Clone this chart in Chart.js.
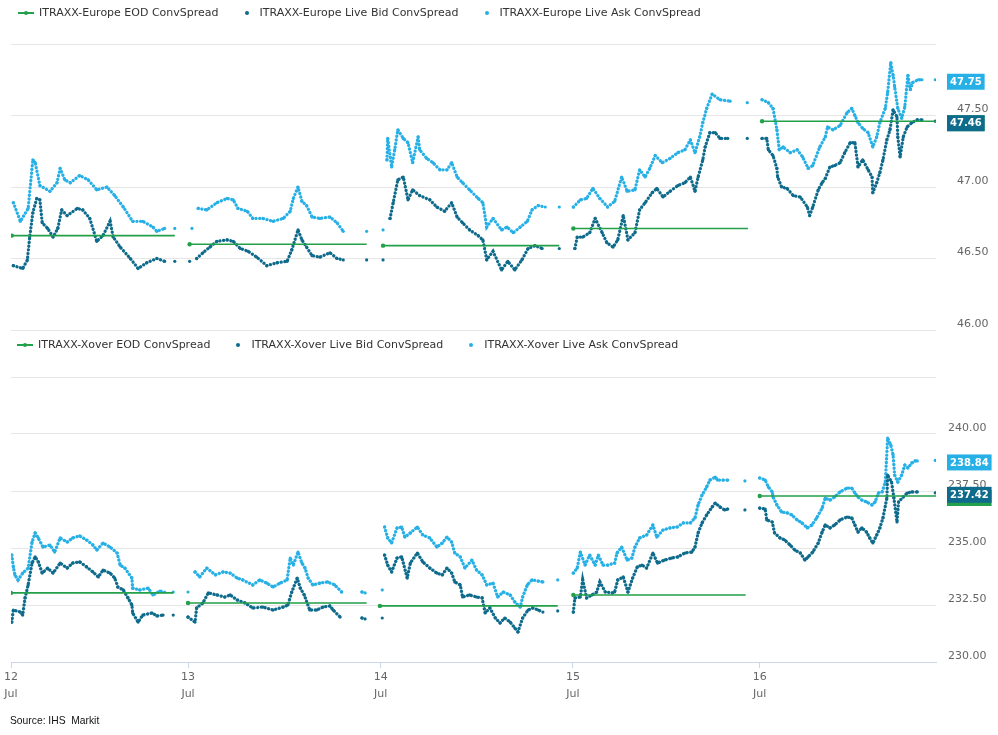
<!DOCTYPE html>
<html>
<head>
<meta charset="utf-8">
<title>ITRAXX ConvSpread</title>
<script src="https://cdn.jsdelivr.net/npm/chart.js@4.4.1/dist/chart.umd.min.js"></script>
<style>
    body { margin: 0; background: #fff; font-family: 'DejaVu Sans', sans-serif; }
    #page { position: relative; width: 998px; height: 735px; overflow: hidden; }
    .panel { position: absolute; left: 0; width: 998px; }
    .legend { position: absolute; display: flex; font-size: 11px; line-height: 14px; color: #333; z-index: 2; white-space: nowrap; }
    .legend .item { display: flex; align-items: center; margin-right: 20px; }
    .legend .sym { position: relative; width: 16px; height: 14px; margin-right: 5px; }
    .legend .sym .ln { position: absolute; left: 0; top: 6px; width: 16px; height: 2px; }
    .legend .sym .dot { position: absolute; left: 6px; top: 5px; width: 4px; height: 4px; border-radius: 50%; }
    #source { position: absolute; left: 10px; top: 715px; font-family: 'Liberation Sans', Arial, sans-serif; font-size: 10.3px; color: #111; white-space: pre; }
</style>
</head>
<body>
<div id="page">
    <div class="panel" style="top:335px; height:400px;"><canvas id="xo-chart"></canvas></div>
    <div class="panel" style="top:0; height:358px;"><canvas id="eu-chart"></canvas></div>
    <div class="legend" id="eu-legend" style="top:6px; left:18px;"></div>
    <div class="legend" id="xo-legend" style="top:338px; left:17px;"></div>
    <div id="source">Source: IHS  Markit</div>
</div>
<script>
// Tidsakse: timer fra 12. juli 00:00, dagsstart slik den vises på aksen
const dayTickHours = [0, 22.7, 47.4, 72.05, 96.0];
const dayTickLabels = [['12', 'Jul'], ['13', 'Jul'], ['14', 'Jul'], ['15', 'Jul'], ['16', 'Jul']];

const euLabels = ['ITRAXX-Europe EOD ConvSpread', 'ITRAXX-Europe Live Bid ConvSpread', 'ITRAXX-Europe Live Ask ConvSpread'];
const xoLabels = ['ITRAXX-Xover EOD ConvSpread', 'ITRAXX-Xover Live Bid ConvSpread', 'ITRAXX-Xover Live Ask ConvSpread'];

// EOD per dag: [start, slutt, verdi]
const euEod = [[0.1, 21.0, 46.66], [22.9, 45.6, 46.60], [47.7, 70.3, 46.59], [72.1, 94.5, 46.71], [96.3, 118.6, 47.46]];
const xoEod = [[0.0, 20.8, 233.03], [22.7, 45.6, 232.59], [47.3, 70.1, 232.46], [72.1, 94.2, 232.94], [96.0, 118.6, 237.28]];

// Live Ask / Bid: [time, verdi], null = hull i dataene
const euAsk = [
    [0.3, 46.89], [1.2, 46.76], [2.2, 46.85], [2.8, 47.19], [3.1, 47.17], [3.7, 47.01], [5.0, 46.97], [5.9, 47.03], [6.3, 47.13], [6.9, 47.05],
    [7.6, 47.03], [8.8, 47.08], [9.9, 47.05], [11.0, 46.98], [12.3, 47.00], [13.3, 46.94], [14.4, 46.86], [15.6, 46.76], [16.9, 46.76], [18.2, 46.72],
    [18.7, 46.69], [19.7, 46.71], [20.3, null], [21.0, 46.71], [22.0, null],
    [23.2, 46.71], [23.5, null], [24.0, 46.85], [25.1, 46.84], [26.4, 46.89], [27.7, 46.92], [28.5, 46.91], [29.1, 46.85], [30.3, 46.83], [31.0, 46.78],
    [32.3, 46.78], [33.6, 46.76], [34.9, 46.78], [35.8, 46.83], [36.2, 46.92], [36.8, 47.00], [37.3, 46.90], [37.9, 46.87], [38.6, 46.79], [39.6, 46.78],
    [40.9, 46.79], [41.8, 46.75], [42.6, 46.69], [44.0, null], [45.6, 46.69], [46.5, null],
    [47.7, 46.70], [47.9, null], [48.2, 47.19], [48.3, 47.34], [48.8, 47.14], [49.2, 47.26], [49.6, 47.40], [50.3, 47.34], [50.9, 47.31], [51.5, 47.17],
    [52.2, 47.35], [52.4, 47.26], [53.3, 47.20], [54.1, 47.17], [55.0, 47.12], [55.9, 47.12], [56.5, 47.17], [57.2, 47.07], [57.9, 47.03], [58.8, 46.98],
    [59.9, 46.92], [60.5, 46.89], [61.0, 46.72], [61.8, 46.78], [62.9, 46.70], [63.6, 46.72], [64.4, 46.68], [65.3, 46.72], [66.2, 46.76], [66.8, 46.84],
    [67.6, 46.87], [68.5, 46.86], [69.4, null], [70.3, 46.86], [71.2, null],
    [72.1, 46.86], [73.0, 46.91], [73.8, 46.92], [74.6, 46.99], [75.5, 46.92], [76.5, 46.86], [77.4, 46.90], [78.3, 47.07], [79.0, 46.97], [80.0, 46.98],
    [80.6, 47.12], [81.3, 47.07], [81.9, 47.13], [82.6, 47.22], [83.5, 47.17], [84.5, 47.20], [85.5, 47.24], [86.4, 47.26], [87.1, 47.33], [87.7, 47.24],
    [88.3, 47.35], [88.7, 47.45], [89.2, 47.55], [89.9, 47.65], [90.9, 47.61], [92.2, 47.60], [93.2, null], [94.4, 47.59], [95.3, null],
    [96.3, 47.61], [97.1, 47.59], [97.7, 47.55], [98.2, 47.40], [98.5, 47.26], [99.0, 47.28], [99.9, 47.24], [100.8, 47.26], [101.5, 47.21], [102.2, 47.13],
    [102.8, 47.15], [103.7, 47.28], [104.4, 47.35], [104.7, 47.42], [105.4, 47.40], [106.3, 47.43], [107.2, 47.52], [107.8, 47.55], [108.2, 47.50], [108.6, 47.45],
    [109.2, 47.41], [109.9, 47.38], [110.5, 47.28], [111.0, 47.35], [111.4, 47.45], [112.1, 47.55], [112.4, 47.66], [112.8, 47.87], [113.1, 47.78], [113.3, 47.70],
    [113.7, 47.55], [114.2, 47.48], [114.6, 47.56], [115.0, 47.78], [115.3, 47.68], [115.6, 47.73], [116.3, 47.75], [116.8, 47.75], [117.6, null], [118.5, 47.75]
];

const euBid = [
    [0.3, 46.45], [1.5, 46.43], [2.1, 46.49], [2.4, 46.65], [2.8, 46.82], [3.3, 46.92], [3.7, 46.91], [4.0, 46.75], [4.7, 46.71], [5.4, 46.65],
    [6.0, 46.71], [6.5, 46.84], [7.2, 46.80], [8.5, 46.85], [9.2, 46.84], [10.1, 46.78], [11.0, 46.62], [11.8, 46.66], [12.7, 46.76], [13.1, 46.65],
    [14.0, 46.58], [15.3, 46.50], [16.3, 46.43], [17.4, 46.47], [18.7, 46.50], [19.7, 46.48], [20.3, null], [21.0, 46.48], [22.0, null],
    [22.9, 46.48], [23.4, null], [23.8, 46.50], [24.6, 46.54], [25.5, 46.58], [26.4, 46.62], [27.7, 46.63], [28.5, 46.62], [29.4, 46.57], [30.4, 46.55],
    [31.5, 46.51], [32.8, 46.45], [34.1, 46.47], [35.4, 46.48], [36.0, 46.56], [36.8, 46.70], [37.3, 46.63], [37.9, 46.58], [38.6, 46.52], [39.6, 46.51],
    [40.9, 46.54], [41.8, 46.50], [42.6, 46.49], [44.0, null], [45.6, 46.49], [46.5, null],
    [47.7, 46.49], [47.9, null], [48.6, 46.78], [49.0, 46.89], [49.6, 47.05], [50.3, 47.07], [50.9, 46.91], [51.5, 46.98], [52.4, 46.94], [53.7, 46.91],
    [54.6, 46.86], [55.6, 46.83], [56.5, 46.89], [57.2, 46.79], [57.9, 46.75], [58.8, 46.70], [59.9, 46.66], [60.5, 46.63], [61.0, 46.49], [61.8, 46.55],
    [62.9, 46.42], [63.7, 46.48], [64.6, 46.42], [65.5, 46.49], [66.3, 46.57], [67.2, 46.59], [68.1, 46.57], [69.4, null], [70.3, 46.57], [71.2, null],
    [72.3, 46.57], [72.6, 46.65], [73.3, 46.65], [74.2, 46.68], [74.9, 46.78], [75.8, 46.68], [76.4, 46.61], [77.2, 46.58], [77.8, 46.63], [78.5, 46.80],
    [79.1, 46.63], [80.0, 46.68], [80.6, 46.84], [81.3, 46.89], [82.2, 46.96], [82.8, 46.99], [83.6, 46.93], [84.5, 46.97], [85.5, 47.01], [86.4, 47.03],
    [87.1, 47.07], [87.7, 46.97], [88.1, 47.07], [88.7, 47.19], [89.0, 47.28], [89.6, 47.38], [90.3, 47.38], [90.9, 47.34], [91.9, 47.34], [93.2, null],
    [94.4, 47.34], [95.3, null],
    [96.3, 47.34], [96.9, 47.34], [97.1, 47.26], [97.7, 47.22], [98.2, 47.13], [98.3, 47.07], [98.8, 47.00], [99.5, 46.99], [100.3, 46.94], [101.2, 46.93],
    [102.1, 46.86], [102.4, 46.80], [102.8, 46.86], [103.5, 46.98], [104.0, 47.03], [104.4, 47.06], [105.0, 47.14], [105.6, 47.15], [106.3, 47.17], [106.9, 47.24],
    [107.6, 47.31], [108.2, 47.31], [108.6, 47.14], [109.2, 47.19], [109.9, 47.12], [110.4, 47.07], [110.5, 46.96], [111.0, 47.03], [111.4, 47.10], [111.8, 47.19],
    [112.3, 47.33], [112.7, 47.40], [113.1, 47.54], [113.6, 47.49], [113.7, 47.35], [114.0, 47.21], [114.4, 47.35], [114.9, 47.42], [115.5, 47.45], [116.2, 47.47],
    [116.8, 47.47], [117.6, null], [118.5, 47.46]
];

const xoAsk = [
    [0.1, 234.69], [0.3, 234.17], [0.5, 233.82], [0.9, 233.60], [1.5, 233.90], [2.2, 234.12], [2.7, 235.26], [3.1, 235.66], [3.5, 235.44], [4.1, 235.04],
    [5.0, 235.13], [5.6, 234.82], [6.3, 235.44], [7.2, 235.26], [7.9, 235.44], [8.8, 235.53], [9.7, 235.35], [10.5, 235.13], [11.0, 234.91], [11.8, 235.22],
    [12.7, 235.04], [13.6, 234.78], [14.0, 234.25], [14.6, 234.12], [15.5, 233.68], [15.6, 233.24], [16.5, 233.16], [17.6, 233.24], [18.2, 232.94], [19.1, 233.11],
    [19.7, 233.07], [20.3, null], [20.8, 233.07], [21.8, null],
    [22.7, 233.07], [23.2, null], [23.6, 233.95], [24.2, 233.73], [25.1, 234.12], [26.2, 233.82], [27.2, 233.95], [28.1, 233.90], [29.0, 233.68], [29.7, 233.60],
    [31.0, 233.38], [31.9, 233.60], [32.8, 233.46], [33.6, 233.29], [34.5, 233.46], [35.4, 233.60], [35.8, 234.56], [36.2, 234.25], [36.8, 234.82], [37.3, 234.34],
    [37.7, 234.12], [38.1, 233.68], [38.7, 233.38], [39.6, 233.46], [40.6, 233.51], [41.5, 233.38], [42.4, 233.07], [44.0, null], [45.0, 233.07], [45.4, 233.03],
    [46.4, null],
    [47.6, 233.16], [47.75, null], [47.9, 235.92], [48.3, 235.44], [48.8, 235.22], [49.5, 235.88], [50.1, 235.92], [50.5, 235.48], [51.2, 235.66], [52.1, 235.92],
    [52.8, 235.57], [53.7, 235.44], [54.6, 235.04], [55.3, 235.22], [55.9, 235.48], [56.5, 235.26], [56.9, 234.78], [57.6, 234.61], [58.2, 234.12], [59.1, 234.47],
    [59.7, 234.03], [60.4, 233.82], [61.0, 233.38], [61.8, 233.46], [62.4, 232.85], [63.1, 233.07], [64.0, 232.94], [64.6, 232.63], [65.3, 232.41], [65.6, 232.85],
    [66.2, 233.38], [66.8, 233.60], [67.6, 233.55], [68.2, 233.51], [69.2, null], [70.1, 233.60], [71.1, null],
    [72.1, 233.90], [72.6, 234.12], [73.0, 234.82], [73.6, 234.25], [74.2, 234.69], [74.9, 234.25], [75.3, 234.69], [75.9, 234.25], [76.5, 234.25], [77.4, 234.34],
    [77.7, 234.78], [78.3, 235.04], [79.0, 234.47], [79.6, 234.56], [80.0, 235.04], [80.6, 235.44], [81.5, 235.57], [82.3, 236.01], [82.8, 235.48], [83.6, 235.79],
    [84.5, 235.88], [85.4, 235.92], [86.2, 236.10], [87.1, 236.10], [87.7, 236.32], [88.1, 236.89], [88.6, 237.32], [89.2, 237.68], [89.6, 237.98], [90.3, 238.11],
    [90.6, 237.98], [91.3, 237.98], [91.9, 237.98], [93.0, null], [94.1, 237.94], [95.0, null],
    [96.0, 238.07], [96.7, 237.98], [97.1, 237.68], [97.6, 237.46], [97.7, 237.24], [98.2, 236.89], [98.8, 236.58], [99.5, 236.54], [100.1, 236.45], [100.8, 236.23],
    [101.4, 236.10], [102.1, 235.88], [102.7, 236.01], [103.3, 236.32], [104.0, 236.75], [104.4, 237.19], [105.0, 237.10], [105.6, 237.24], [106.3, 237.46], [107.2, 237.63],
    [107.8, 237.63], [108.2, 237.41], [108.6, 237.24], [109.1, 237.10], [109.7, 237.02], [110.4, 236.89], [110.8, 237.02], [111.2, 237.41], [111.7, 237.46], [112.1, 237.89],
    [112.4, 239.82], [112.8, 239.52], [113.1, 239.08], [113.3, 238.20], [113.7, 237.89], [114.2, 238.20], [114.6, 238.64], [115.0, 238.51], [115.5, 238.73], [115.9, 238.82],
    [116.2, 238.82], [117.4, null], [118.5, 238.84]
];

const xoBid = [
    [0.1, 231.75], [0.3, 232.28], [1.2, 232.19], [1.5, 232.06], [1.8, 232.81], [2.2, 233.38], [2.7, 234.34], [3.1, 234.61], [3.5, 234.39], [4.0, 233.90],
    [4.7, 234.12], [5.4, 233.90], [6.3, 234.34], [7.2, 234.12], [7.9, 234.34], [8.8, 234.39], [9.7, 234.17], [10.5, 233.95], [11.2, 233.73], [11.8, 234.03],
    [12.7, 233.90], [13.3, 233.68], [13.7, 233.29], [14.4, 233.16], [15.0, 232.81], [15.5, 232.50], [15.6, 232.15], [16.3, 231.75], [16.9, 232.06], [18.1, 232.15],
    [18.7, 232.02], [19.5, 232.06], [20.3, null], [20.8, 232.06], [21.8, null],
    [22.7, 231.97], [23.6, 231.75], [23.8, 232.37], [24.6, 232.59], [25.3, 233.03], [26.4, 232.94], [27.4, 232.85], [28.1, 232.94], [29.0, 232.72], [30.0, 232.59],
    [31.0, 232.37], [32.3, 232.41], [33.6, 232.28], [34.9, 232.41], [35.5, 232.50], [36.0, 233.07], [36.7, 233.68], [37.1, 233.24], [37.6, 232.94], [38.3, 232.28],
    [39.2, 232.28], [40.0, 232.41], [40.9, 232.46], [41.3, 232.28], [42.2, 231.97], [44.0, null], [45.0, 231.93], [45.4, 231.89], [46.4, null],
    [47.6, 231.93], [47.75, null], [47.9, 234.69], [48.3, 234.25], [48.8, 233.95], [49.5, 234.56], [50.1, 234.61], [50.8, 233.68], [51.2, 234.34], [52.1, 234.78],
    [52.8, 234.39], [53.7, 234.12], [54.6, 233.90], [55.3, 233.82], [55.9, 234.12], [56.5, 233.90], [56.9, 233.51], [57.6, 233.38], [57.9, 232.85], [58.8, 232.94],
    [59.7, 232.85], [60.4, 232.81], [60.8, 232.15], [61.4, 232.37], [62.1, 231.93], [62.7, 231.71], [63.3, 231.93], [64.0, 231.75], [64.6, 231.49], [65.0, 231.32],
    [65.6, 231.93], [66.3, 232.28], [66.9, 232.37], [67.6, 232.28], [68.2, 232.19], [69.2, null], [70.1, 232.24], [71.1, null],
    [72.1, 232.19], [72.3, 232.81], [73.0, 232.85], [73.3, 233.60], [73.8, 232.81], [74.5, 232.94], [75.1, 233.07], [75.5, 233.51], [76.2, 233.07], [77.1, 233.03],
    [77.4, 233.07], [77.8, 233.60], [78.5, 233.73], [79.1, 233.07], [79.7, 233.68], [80.3, 234.17], [80.9, 234.25], [81.5, 234.12], [82.3, 234.78], [82.9, 234.34],
    [83.8, 234.47], [84.7, 234.56], [85.5, 234.61], [86.4, 234.78], [87.3, 234.82], [87.7, 235.04], [88.1, 235.66], [88.6, 236.10], [89.2, 236.45], [89.9, 236.80],
    [90.3, 236.97], [90.9, 236.80], [91.5, 236.67], [91.9, 236.71], [93.0, null], [94.1, 236.67], [95.0, null],
    [96.0, 236.75], [96.7, 236.71], [96.9, 236.23], [97.6, 236.14], [97.9, 235.66], [98.6, 235.44], [99.2, 235.35], [99.9, 235.13], [100.5, 234.91], [101.2, 234.78],
    [101.8, 234.47], [102.2, 234.61], [102.8, 234.82], [103.5, 235.22], [104.0, 235.70], [104.4, 236.01], [105.0, 235.88], [105.6, 236.01], [106.3, 236.23], [107.2, 236.36],
    [107.8, 236.32], [108.2, 236.01], [108.6, 235.70], [109.1, 235.88], [109.7, 235.70], [110.1, 235.44], [110.5, 235.22], [111.0, 235.57], [111.4, 235.88], [111.8, 236.32],
    [112.3, 237.19], [112.4, 238.20], [112.9, 237.89], [113.2, 237.19], [113.6, 236.14], [113.8, 237.02], [114.4, 237.24], [114.9, 237.41], [115.5, 237.46], [116.2, 237.46],
    [117.4, null], [118.5, 237.42]
];

const eodColor = '#23a04a';
const bidColor = '#0e6b8c';
const askColor = '#27b0e6';

function toPoints(pairs) {
    return pairs.map(p => ({ x: p[0], y: p[1] }));
}

function eodPoints(days) {
    const pts = [];
    days.forEach(d => {
        pts.push({ x: d[0], y: d[2], start: true });
        pts.push({ x: d[1], y: d[2] });
        pts.push({ x: d[1] + 0.5, y: null });
    });
    return pts;
}

function lastValue(pairs) {
    return pairs[pairs.length - 1][1];
}

function eodSeries(label, days) {
    return {
        label: label,
        data: eodPoints(days),
        borderColor: eodColor,
        backgroundColor: eodColor,
        borderWidth: 1.6,
        pointRadius: ctx => (ctx.raw && ctx.raw.start ? 2.2 : 0),
        pointBorderWidth: 0,
        pointHoverRadius: 0,
        spanGaps: false
    };
}

function dotSeries(label, color, pairs) {
    return {
        label: label,
        data: toPoints(pairs),
        borderColor: color,
        backgroundColor: color,
        borderWidth: 3.3,
        borderDash: [0.1, 3.6],
        borderCapStyle: 'round',
        pointRadius: 1.6,
        pointBorderWidth: 0,
        pointBackgroundColor: color,
        pointHoverRadius: 2,
        spanGaps: false,
        tension: 0
    };
}

// Verdietiketter til høyre for plottet
const lastValueBadges = {
    id: 'lastValueBadges',
    afterDraw(chart, args, opts) {
        const ctx = chart.ctx;
        const yScale = chart.scales.y;
        const left = chart.chartArea.right + 11;
        ctx.save();
        ctx.font = 'bold 10px "DejaVu Sans"';
        ctx.textBaseline = 'middle';
        opts.items.forEach(item => {
            const text = item.value.toFixed(2);
            const w = ctx.measureText(text).width + 6;
            const py = yScale.getPixelForValue(item.value) + 2;
            ctx.fillStyle = item.color;
            ctx.fillRect(left, py - 8, w, 16);
            ctx.fillStyle = '#fff';
            ctx.fillText(text, left + 3, py + 0.5);
        });
        ctx.restore();
    }
};

function yAxis(min, max, step, pad) {
    return {
        position: 'right',
        min: min,
        max: max,
        ticks: {
            stepSize: step,
            padding: pad,
            labelOffset: -6,
            color: '#666',
            font: { family: 'DejaVu Sans', size: 11 },
            callback: v => (v === max ? '' : v.toFixed(2))
        },
        grid: { color: '#e6e6e6', drawTicks: false },
        border: { display: false },
        afterFit: s => { s.width = 52; }
    };
}

function buildLegend(id, labels) {
    const el = document.getElementById(id);
    const colors = [eodColor, bidColor, askColor];
    labels.forEach((label, i) => {
        const item = document.createElement('div');
        item.className = 'item';
        const sym = i === 0
            ? `<span class="sym"><span class="ln" style="background:${colors[i]}"></span><span class="dot" style="background:${colors[i]}"></span></span>`
            : `<span class="sym"><span class="dot" style="background:${colors[i]}"></span></span>`;
        item.innerHTML = `${sym}<span>${label}</span>`;
        el.appendChild(item);
    });
}

// Europe-panelet (øverst)
new Chart(document.getElementById('eu-chart'), {
    type: 'line',
    data: {
        datasets: [
            eodSeries(euLabels[0], euEod),
            dotSeries(euLabels[1], bidColor, euBid),
            dotSeries(euLabels[2], askColor, euAsk)
        ]
    },
    options: {
        responsive: true,
        maintainAspectRatio: false,
        animation: false,
        layout: { padding: { top: 44, bottom: 28, left: 11, right: 10 } },
        scales: {
            x: { type: 'linear', min: 0, max: 118.6, display: false },
            y: yAxis(46, 48, 0.5, 21)
        },
        plugins: {
            legend: { display: false },
            tooltip: { enabled: false },
            lastValueBadges: {
                items: [
                    { value: euEod[euEod.length - 1][2], color: eodColor },
                    { value: lastValue(euBid), color: bidColor },
                    { value: lastValue(euAsk), color: askColor }
                ]
            }
        }
    },
    plugins: [lastValueBadges]
});

// Xover-panelet (nederst)
new Chart(document.getElementById('xo-chart'), {
    type: 'line',
    data: {
        datasets: [
            eodSeries(xoLabels[0], xoEod),
            dotSeries(xoLabels[1], bidColor, xoBid),
            dotSeries(xoLabels[2], askColor, xoAsk)
        ]
    },
    options: {
        responsive: true,
        maintainAspectRatio: false,
        animation: false,
        layout: { padding: { top: 42, bottom: 25, left: 11, right: 10 } },
        scales: {
            x: {
                type: 'linear',
                min: 0,
                max: 118.6,
                afterBuildTicks: s => { s.ticks = dayTickHours.map(v => ({ value: v })); },
                ticks: {
                    autoSkip: false,
                    maxRotation: 0,
                    padding: 1,
                    color: '#666',
                    font: { family: 'DejaVu Sans', size: 11, lineHeight: 1.55 },
                    callback: (v, i) => dayTickLabels[i]
                },
                grid: { drawOnChartArea: false, color: '#ccd6eb', tickLength: 6 },
                border: { color: '#ccd6eb' },
                afterFit: s => { s.height = 48; }
            },
            y: yAxis(230, 242.5, 2.5, 12)
        },
        plugins: {
            legend: { display: false },
            tooltip: { enabled: false },
            lastValueBadges: {
                items: [
                    { value: xoEod[xoEod.length - 1][2], color: eodColor },
                    { value: lastValue(xoBid), color: bidColor },
                    { value: lastValue(xoAsk), color: askColor }
                ]
            }
        }
    },
    plugins: [lastValueBadges]
});

buildLegend('eu-legend', euLabels);
buildLegend('xo-legend', xoLabels);
</script>
</body>
</html>
